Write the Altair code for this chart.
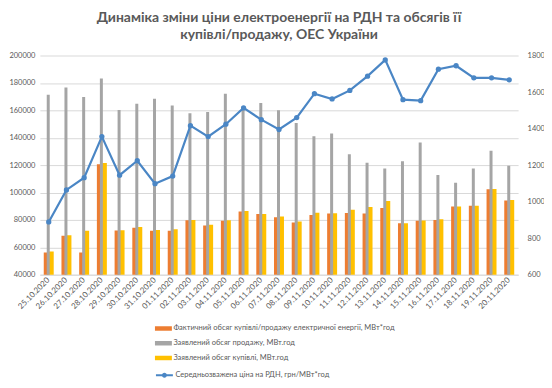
import altair as alt
import pandas as pd

dates = ["25.10.2020", "26.10.2020", "27.10.2020", "28.10.2020", "29.10.2020", "30.10.2020",
         "31.10.2020", "01.11.2020", "02.11.2020", "03.11.2020", "04.11.2020", "05.11.2020",
         "06.11.2020", "07.11.2020", "08.11.2020", "09.11.2020", "10.11.2020", "11.11.2020",
         "12.11.2020", "13.11.2020", "14.11.2020", "15.11.2020", "16.11.2020", "17.11.2020",
         "18.11.2020", "19.11.2020", "20.11.2020"]
actual = [56200, 68400, 56200, 120700, 72200, 74200, 72000, 72000, 79800, 75900, 79300, 86100,
          84400, 81900, 78100, 83600, 84600, 85100, 84600, 88700, 77600, 79300, 80000, 89700,
          90400, 102300, 94100]
sell = [171400, 176700, 169700, 183300, 160200, 164800, 168500, 163600, 157800, 158800, 172100,
        162000, 165300, 160000, 150800, 141100, 143000, 128000, 121700, 117600, 122900, 136500,
        112700, 107200, 117600, 130400, 119500]
buy = [57000, 68800, 72000, 121500, 72500, 74900, 72700, 73200, 80000, 76400, 79800, 86500,
       84400, 82400, 78800, 85300, 84800, 87500, 89500, 93800, 77600, 79500, 80500, 89700,
       90400, 102500, 94600]
price = [889, 1064, 1131, 1356, 1145, 1224, 1098, 1140, 1416, 1356, 1424, 1513, 1449, 1395,
         1460, 1591, 1562, 1609, 1687, 1776, 1558, 1553, 1725, 1744, 1678, 1678, 1667]

s_actual = "Фактичний обсяг купівлі/продажу електричної енергії, МВт*год"
s_sell = "Заявлений обсяг продажу, МВт.год"
s_buy = "Заявлений обсяг купівлі, МВт.год"
s_price = "Середньозважена ціна на РДН, грн/МВт*год"

C_ORANGE = "#ED7D31"
C_GRAY = "#A5A5A5"
C_YELLOW = "#FFC000"
C_BLUE = "#4A86C5"
TXT = "#595959"
FONT = "Lato"

n = len(dates)
bars_df = pd.DataFrame({
    "date": dates * 3,
    "series": [s_actual] * n + [s_sell] * n + [s_buy] * n,
    "value": actual + sell + buy,
})
line_df = pd.DataFrame({"date": dates, "price": price, "series": [s_price] * n})

xenc = alt.X("date:N", sort=dates,
             scale=alt.Scale(paddingInner=0, paddingOuter=0),
             axis=alt.Axis(title=None, labelAngle=-45, labelAlign="right", labelBaseline="middle",
                           labelOverlap=False, labelFontSize=8, labelColor=TXT,
                           labelFont=FONT, ticks=False, domainColor="#D9D9D9", labelPadding=4))

yscale = alt.Scale(domain=[40000, 200000], nice=False, zero=False)
yaxis = alt.Axis(title=None, values=list(range(40000, 200001, 20000)), format="d",
                 grid=True, gridColor="#D9D9D9", domain=False, ticks=False,
                 labelPadding=5, labelFontSize=7.5, labelColor=TXT, labelFont=FONT)

fill = alt.Fill("series:N",
                scale=alt.Scale(domain=[s_actual, s_sell, s_buy],
                                range=[C_ORANGE, C_GRAY, C_YELLOW]),
                legend=alt.Legend(title=None, orient="none", legendX=119, legendY=269,
                                  direction="vertical", padding=0,
                                  symbolType="M-1.7,-0.45H1.7V0.45H-1.7Z", symbolSize=100,
                                  symbolStrokeWidth=0, labelOffset=5, rowPadding=5.8,
                                  labelFontSize=7.5, labelColor=TXT, labelFont=FONT,
                                  labelLimit=400))


def bar_layer(name, w, off):
    return alt.Chart(bars_df).transform_filter(
        alt.datum.series == name
    ).mark_bar(width=w, xOffset=off, clip=True).encode(
        x=xenc,
        y=alt.Y("value:Q", scale=yscale, axis=yaxis),
        fill=fill,
    )


bars = alt.layer(
    bar_layer(s_actual, 5, -2.5),
    bar_layer(s_buy, 5, 2.5),
    bar_layer(s_sell, 3, -0.5),
)

pscale = alt.Scale(domain=[600, 1800], nice=False, zero=False)
paxis = alt.Axis(title=None, orient="right", values=list(range(600, 1801, 200)), format="d",
                 grid=False, domain=False, ticks=False, labelPadding=9,
                 labelFontSize=7.5, labelColor=TXT, labelFont=FONT)

line = alt.Chart(line_df).mark_line(strokeWidth=2.2).encode(
    x=xenc,
    y=alt.Y("price:Q", scale=pscale, axis=paxis),
    stroke=alt.Stroke("series:N", scale=alt.Scale(domain=[s_price], range=[C_BLUE]),
                      legend=alt.Legend(title=None, orient="none", legendX=119, legendY=315,
                                        padding=0,
                                        symbolType="M-1.7,0H1.7M0.3,0A0.3,0.3,0,1,1,-0.3,0A0.3,0.3,0,1,1,0.3,0",
                                        symbolSize=100, symbolStrokeWidth=2, labelOffset=5,
                                        labelFontSize=7.5, labelColor=TXT, labelFont=FONT,
                                        labelLimit=400)),
)
pts = alt.Chart(line_df).mark_circle(size=28, opacity=1, color=C_BLUE).encode(
    x=xenc,
    y=alt.Y("price:Q", scale=pscale, axis=paxis),
)

chart = alt.layer(bars, alt.layer(line, pts)).resolve_scale(y="independent").properties(
    width=480, height=220,
    title=alt.TitleParams(["Динаміка зміни ціни електроенергії на РДН та обсягів її",
                           "купівлі/продажу, ОЕС України"],
                          font=FONT, fontSize=14, fontWeight="bold", color=TXT,
                          anchor="middle", frame="group", offset=10, lineHeight=17),
    autosize=alt.AutoSizeParams(type="none"),
    padding={"left": 32, "top": 47, "right": 26, "bottom": 105},
    background="white",
).configure_view(stroke=None)

chart.save("out.html", embed_options={"renderer": "svg", "actions": False})
